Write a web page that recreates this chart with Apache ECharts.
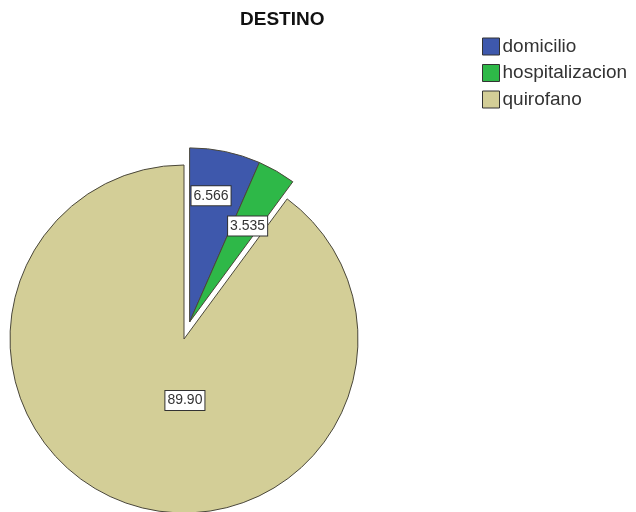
<!DOCTYPE html>
<html>
<head>
<meta charset="utf-8">
<script src="https://cdn.jsdelivr.net/npm/echarts@6/dist/echarts.min.js"></script>
<style>
  html, body { margin: 0; padding: 0; background: #fff; }
  #chart { width: 636px; height: 512px; }
</style>
</head>
<body>
<div id="chart"></div>
<script>
// Destination breakdown (percent of cases)
const categories = ['domicilio', 'hospitalizacion', 'quirofano'];
const values = [6.566, 3.535, 89.90];
const valueLabels = ['6.566', '3.535', '89.90'];
const exploded = [true, true, false];
const colors = ['#3e58ac', '#2eb848', '#d3ce97'];

// per-slice nudges of the value boxes away from the default mid-radius spot
const labelNudge = [[3, -38], [13, -18], [29, -24]];

const outline = '#4a473a';
const font = '"Liberation Sans", Arial, sans-serif';

const pieCenter = [184, 339];
const pieRadius = 174;
const explodeDistance = 18;

// The exploded slices are pulled out together, along the bisector of their
// combined wedge (angles measured clockwise from 12 o'clock).
const total = values.reduce((a, b) => a + b, 0);
const explodedSum = values.reduce((a, v, i) => a + (exploded[i] ? v : 0), 0);
const keptSum = total - explodedSum;
const groupMid = (explodedSum / total) * Math.PI; // half of the group's sweep
const groupCenter = [
  pieCenter[0] + explodeDistance * Math.sin(groupMid),
  pieCenter[1] - explodeDistance * Math.cos(groupMid)
];

// an invisible wedge that keeps the other slices' angles in place
const hiddenItem = value => ({
  name: '',
  value,
  itemStyle: { color: 'none', borderWidth: 0 },
  label: { show: false }
});

const shownItem = i => ({
  name: categories[i],
  value: values[i],
  itemStyle: { color: colors[i] }
});

const nudgeFor = name => {
  const i = categories.indexOf(name);
  return i < 0 ? {} : { dx: labelNudge[i][0], dy: labelNudge[i][1] };
};

const pieBase = {
  type: 'pie',
  radius: pieRadius,
  startAngle: 90,
  clockwise: true,
  avoidLabelOverlap: false,
  silent: true,
  itemStyle: { borderColor: outline, borderWidth: 1 },
  emphasis: { disabled: true },
  labelLine: { show: false },
  label: {
    show: true,
    position: 'inside',
    formatter: p => valueLabels[categories.indexOf(p.name)],
    fontFamily: font,
    fontSize: 14,
    color: '#333',
    backgroundColor: '#ffffff',
    borderColor: '#333',
    borderWidth: 1,
    padding: [3, 2, 2, 2]
  }
};

// exploded group first, remainder kept as an empty gap
const groupData = [];
categories.forEach((c, i) => { if (exploded[i]) groupData.push(shownItem(i)); });
groupData.push(hiddenItem(keptSum));

const restData = [hiddenItem(explodedSum)];
categories.forEach((c, i) => { if (!exploded[i]) restData.push(shownItem(i)); });

const chart = echarts.init(document.getElementById('chart'), null, { renderer: 'canvas' });

chart.setOption({
  animation: false,
  backgroundColor: '#ffffff',
  title: {
    text: 'DESTINO',
    left: 235,
    top: 5,
    textStyle: { fontFamily: font, fontWeight: 'bold', fontSize: 19, color: '#111' }
  },
  legend: {
    orient: 'vertical',
    left: 477,
    top: 32,
    itemWidth: 17,
    itemHeight: 17,
    itemGap: 7.5,
    icon: 'rect',
    selectedMode: false,
    data: categories,
    itemStyle: { borderColor: '#333', borderWidth: 1 },
    textStyle: { fontFamily: font, fontSize: 19, color: '#333', padding: [0, 0, 0, -2] }
  },
  series: [
    Object.assign({}, pieBase, {
      name: 'grupo',
      center: groupCenter,
      data: groupData,
      labelLayout: p => nudgeFor(groupData[p.dataIndex].name)
    }),
    Object.assign({}, pieBase, {
      name: 'resto',
      center: pieCenter,
      data: restData,
      labelLayout: p => nudgeFor(restData[p.dataIndex].name)
    })
  ]
});
</script>
</body>
</html>
